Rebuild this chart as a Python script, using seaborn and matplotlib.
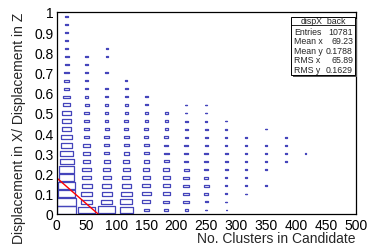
import numpy as np
import pandas as pd
import matplotlib
matplotlib.use("Agg")
import matplotlib.pyplot as plt
import seaborn as sns
from matplotlib.ticker import MultipleLocator, FuncFormatter
from matplotlib.markers import MarkerStyle
from matplotlib.patches import Rectangle

# ---------------- data ----------------
x_range = (0, 500)
n_xbins = 15
y_range = (0, 1)
n_ybins = 25

# bin contents per x bin, listed from the lowest y bin upward
counts_xbin_00 = [553, 530, 475, 443, 373, 354, 300, 243, 199, 172, 141, 124, 113, 84, 63, 48, 48, 30, 25, 25, 20, 18, 14, 14, 10]
counts_xbin_01 = [443, 199, 166, 153, 124, 108, 89, 75, 63, 48, 45, 35, 30, 25, 20, 18, 16, 14, 10, 9]
counts_xbin_02 = [464, 166, 153, 130, 98, 75, 55, 41, 32, 30, 25, 22, 18, 14, 14, 10, 0, 9, 0, 6, 6]
counts_xbin_03 = [283, 221, 185, 124, 98, 75, 55, 48, 38, 30, 25, 25, 20, 14, 14, 9, 6]
counts_xbin_04 = [38, 98, 108, 98, 89, 55, 48, 38, 30, 25, 25, 20, 16, 12, 9]
counts_xbin_05 = [25, 55, 67, 75, 75, 55, 38, 30, 25, 25, 20, 16, 12]
counts_xbin_06 = [14, 48, 48, 48, 48, 38, 30, 25, 20, 16, 14, 10, 9, 6]
counts_xbin_07 = [4, 14, 30, 38, 30, 30, 25, 20, 16, 14, 12, 9, 6, 6]
counts_xbin_08 = [2, 4, 6, 9, 9, 12, 14, 14, 10, 9, 9, 6]
counts_xbin_09 = [0, 0, 2, 3, 4, 6, 9, 9, 9, 6]
counts_xbin_10 = [0, 0, 0, 2, 0, 3, 6, 6, 5, 0, 2]
counts_xbin_11 = [0, 0, 0, 0, 0, 0, 6, 5, 6, 5]
counts_xbin_12 = [0, 0, 0, 0, 0, 0, 0, 2]
counts_xbin_13 = []
counts_xbin_14 = []

line_x = [0.0, 69.23]
line_y = [0.1788, 0.0]

x_title = "No. Clusters in Candidate"
y_title = "Displacement in X/ Displacement in Z"

stats_title = "dispX_back"
stats_labels = ["Entries", "Mean x", "Mean y", "RMS x", "RMS y"]
stats_values = ["10781", "69.23", "0.1788", "65.89", "0.1629"]

# ---------------- build table ----------------
columns = [counts_xbin_00, counts_xbin_01, counts_xbin_02, counts_xbin_03, counts_xbin_04,
           counts_xbin_05, counts_xbin_06, counts_xbin_07, counts_xbin_08, counts_xbin_09,
           counts_xbin_10, counts_xbin_11, counts_xbin_12, counts_xbin_13, counts_xbin_14]
xw = (x_range[1] - x_range[0]) / n_xbins
yw = (y_range[1] - y_range[0]) / n_ybins
rows = []
for i, col in enumerate(columns):
    for j, c in enumerate(col):
        if c > 0:
            rows.append({"x": x_range[0] + (i + 0.5) * xw,
                         "y": y_range[0] + (j + 0.5) * yw,
                         "count": c})
df = pd.DataFrame(rows)

# ---------------- figure ----------------
sns.set_theme(style="white")
plt.rcParams["font.family"] = ["Liberation Sans", "DejaVu Sans"]

W, H, DPI = 374, 253, 100
fig = plt.figure(figsize=(W / DPI, H / DPI), dpi=DPI)
L, R, T, B = 56.7, 355.7, 13.0, 215.0   # pixel frame
ax = fig.add_axes([L / W, 1 - B / H, (R - L) / W, (B - T) / H])

bin_w_px = (R - L) / n_xbins
bin_h_px = (B - T) / n_ybins
ratio = bin_h_px / bin_w_px
verts = [(-1, -ratio), (1, -ratio), (1, ratio), (-1, ratio), (-1, -ratio)]
box_marker = MarkerStyle(verts)
bin_w_pt = bin_w_px * 72 / DPI
cmax = df["count"].max()
smax = (0.95 * bin_w_pt) ** 2

sns.scatterplot(data=df, x="x", y="y", size="count", sizes=(0, smax),
                size_norm=(0, cmax), marker=box_marker, legend=False, ax=ax,
                linewidth=0.9)
coll = ax.collections[0]
coll.set_facecolor("none")
coll.set_edgecolor("#4545bb")
coll.set_linewidth(0.9)

sns.lineplot(x=line_x, y=line_y, sort=False, estimator=None, color="red",
             linewidth=1.0, ax=ax)

ax.set_xlim(*x_range)
ax.set_ylim(*y_range)
ax.set_xlabel("")
ax.set_ylabel("")
ax.xaxis.set_major_locator(MultipleLocator(50))
ax.xaxis.set_minor_locator(MultipleLocator(10))
ax.yaxis.set_major_locator(MultipleLocator(0.1))
ax.yaxis.set_minor_locator(MultipleLocator(0.02))
fmt = FuncFormatter(lambda v, p: f"{v:g}")
ax.xaxis.set_major_formatter(fmt)
ax.yaxis.set_major_formatter(fmt)
ax.tick_params(axis="both", which="both", direction="in", top=False, right=False,
               colors="black", width=0.8, labelsize=10)
ax.tick_params(axis="x", which="major", length=4.3, pad=3)
ax.tick_params(axis="x", which="minor", length=2.5)
ax.tick_params(axis="y", which="major", length=6.5, pad=2.2)
ax.tick_params(axis="y", which="minor", length=3.2)
for s in ax.spines.values():
    s.set_color("black")
    s.set_linewidth(0.9)

fig.text(R / W, 1 - 239 / H, x_title, ha="right", va="center", fontsize=10)
fig.text(19 / W, 1 - T / H, y_title, ha="center", va="top", rotation=90, fontsize=10)

# stats box
bx0, bx1, by0, by1 = 291, 355, 18, 76
fig.patches.append(Rectangle(((bx0 + 1.5) / W, 1 - (by1 + 1.5) / H), (bx1 - bx0) / W,
                             (by1 - by0) / H, transform=fig.transFigure,
                             facecolor="#555555", edgecolor="none", zorder=5))
fig.patches.append(Rectangle((bx0 / W, 1 - by1 / H), (bx1 - bx0) / W, (by1 - by0) / H,
                             transform=fig.transFigure, facecolor="white",
                             edgecolor="black", linewidth=0.7, zorder=6))
sep_y = 25.5
fig.add_artist(plt.Line2D([bx0 / W, bx1 / W], [1 - sep_y / H, 1 - sep_y / H],
                          transform=fig.transFigure, color="black", linewidth=0.6, zorder=7))
fig.text((bx0 + bx1) / 2 / W, 1 - 21.5 / H, stats_title, ha="center", va="center",
         fontsize=6.3, zorder=8)
row_y = [32.3, 42.0, 51.5, 61.0, 70.5]
for lab, val, yy in zip(stats_labels, stats_values, row_y):
    fig.text((bx0 + 3) / W, 1 - yy / H, lab, ha="left", va="center", fontsize=6.3, zorder=8)
    fig.text((bx1 - 2) / W, 1 - yy / H, val, ha="right", va="center", fontsize=6.3, zorder=8)

fig.savefig("out.png", dpi=DPI)
